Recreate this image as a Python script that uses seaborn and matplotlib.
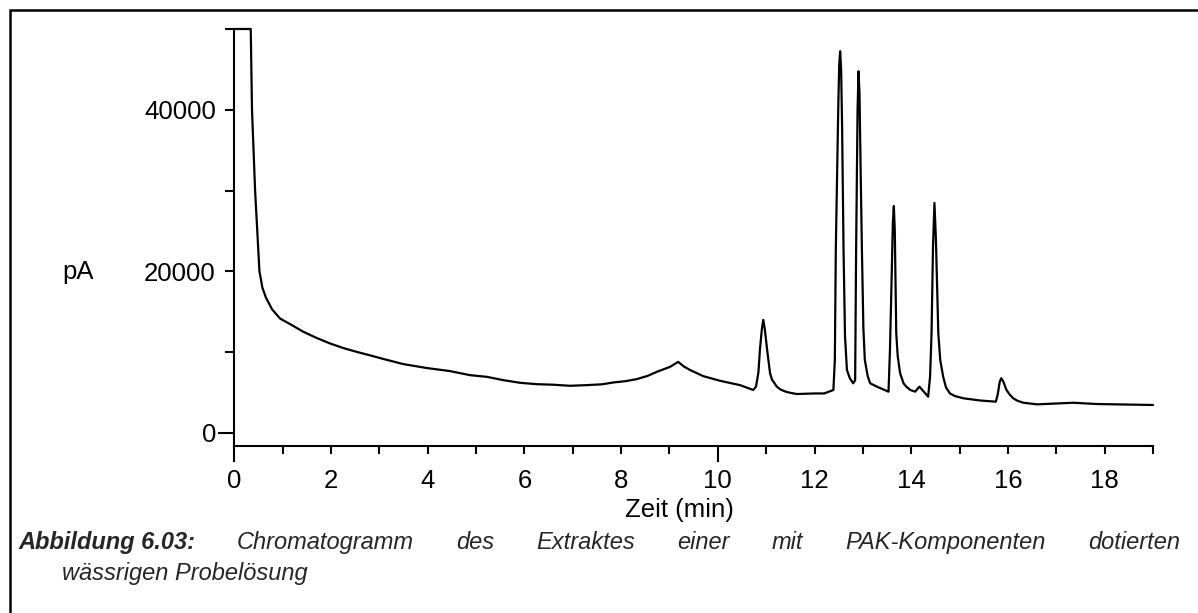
import matplotlib
matplotlib.use("Agg")
import matplotlib.pyplot as plt
import matplotlib.patches as mpatches
import matplotlib.ticker as mticker
import seaborn as sns
import pandas as pd

zeit = [0.0, 0.34, 0.366, 0.43, 0.52, 0.58, 0.65, 0.78, 0.945, 1.2, 1.43, 1.7, 1.98, 2.25, 2.53, 2.8,
        3.12, 3.5, 4.0, 4.45, 4.87, 5.22, 5.56, 5.91, 6.25, 6.6, 6.94, 7.29, 7.6, 7.84, 8.1, 8.32,
        8.55, 8.74, 9.01, 9.18, 9.3, 9.43, 9.7, 10.05, 10.46, 10.73, 10.79, 10.84, 10.87, 10.91,
        10.94, 10.97, 11.02, 11.08, 11.12, 11.22, 11.3, 11.4, 11.49, 11.63, 12.0, 12.2, 12.39,
        12.42, 12.44, 12.49, 12.51, 12.53, 12.55, 12.57, 12.6, 12.63, 12.67, 12.73, 12.8, 12.84,
        12.86, 12.89, 12.91, 12.93, 12.96, 12.98, 13.01, 13.04, 13.1, 13.15, 13.29, 13.53, 13.56,
        13.59, 13.62, 13.64, 13.66, 13.69, 13.72, 13.77, 13.84, 13.9, 13.98, 14.08, 14.17, 14.29,
        14.35, 14.39, 14.42, 14.45, 14.48, 14.51, 14.56, 14.6, 14.66, 14.72, 14.8, 14.9, 15.08,
        15.42, 15.75, 15.79, 15.83, 15.86, 15.9, 15.97, 16.04, 16.11, 16.2, 16.32, 16.6, 17.35,
        17.84, 19.0]
signal = [50000, 50000, 40000, 30000, 20000, 18000, 16800, 15300, 14150, 13300, 12500, 11750, 11060,
          10500, 10020, 9600, 9080, 8500, 8000, 7650, 7140, 6930, 6520, 6190, 6020, 5950, 5820, 5900,
          6000, 6230, 6400, 6640, 7050, 7550, 8160, 8780, 8200, 7760, 7010, 6430, 5900, 5300, 5710,
          7500, 10260, 12800, 13980, 12900, 10260, 7370, 6600, 5710, 5350, 5100, 4960, 4800, 4870,
          4870, 5300, 9000, 22660, 40000, 45500, 47250, 45000, 38000, 22660, 12000, 7780, 6750, 6130,
          6500, 22660, 40000, 44770, 42000, 30000, 22660, 13000, 9020, 7000, 6130, 5710, 5090, 10260,
          18000, 26000, 28080, 25000, 12330, 9500, 7370, 6130, 5700, 5300, 5090, 5710, 4880, 4470,
          7000, 12330, 23000, 28460, 24000, 12330, 9000, 6950, 5600, 4880, 4550, 4270, 4000, 3850,
          4800, 6300, 6750, 6400, 5300, 4700, 4270, 3950, 3720, 3520, 3720, 3560, 3440]

x_major = [0, 10]
x_minor = [1, 2, 3, 4, 5, 6, 7, 8, 9, 11, 12, 13, 14, 15, 16, 17, 18, 19]
x_minor_labels = ["", "2", "", "4", "", "6", "", "8", "", "", "12", "", "14", "", "16", "", "18", ""]
y_major = [0]
y_minor = [10000, 20000, 30000, 40000, 50000]
y_minor_labels = ["", "20000", "", "40000", ""]

caption_line1 = ["Abbildung 6.03:", "Chromatogramm", "des", "Extraktes", "einer", "mit",
                 "PAK-Komponenten", "dotierten"]
caption_line2 = "wässrigen Probelösung"

sns.set_style("ticks")
plt.rcParams["font.family"] = ["Liberation Sans", "DejaVu Sans"]

W, H = 1198, 613
fig = plt.figure(figsize=(W / 100, H / 100), dpi=100)
ax = fig.add_axes([234.3 / W, 1 - 445.7 / H, (1153 - 234.3) / W, (445.7 - 29) / H])

df = pd.DataFrame({"Zeit": zeit, "pA": signal})
sns.lineplot(data=df, x="Zeit", y="pA", ax=ax, color="black", linewidth=1.6,
             estimator=None, sort=False, clip_on=False)

ax.set_xlim(0, 19)
ax.set_ylim(-1600, 50000)
sns.despine(ax=ax)
for s in ["left", "bottom"]:
    ax.spines[s].set_linewidth(1.5)
    ax.spines[s].set_color("black")

fs = 18.5
ax.xaxis.set_major_locator(mticker.FixedLocator(x_major))
ax.xaxis.set_minor_locator(mticker.FixedLocator(x_minor))
ax.xaxis.set_major_formatter(mticker.FuncFormatter(lambda v, p: f"{v:g}"))
ax.xaxis.set_minor_formatter(mticker.FixedFormatter(x_minor_labels))
ax.yaxis.set_major_locator(mticker.FixedLocator(y_major))
ax.yaxis.set_minor_locator(mticker.FixedLocator(y_minor))
ax.yaxis.set_major_formatter(mticker.FuncFormatter(lambda v, p: f"{v:g}"))
ax.yaxis.set_minor_formatter(mticker.FixedFormatter(y_minor_labels))

ax.tick_params(axis="x", which="major", direction="out", length=11.5, width=1.5, pad=5.0,
               labelsize=fs, colors="black")
ax.tick_params(axis="x", which="minor", direction="out", length=5.8, width=1.5, pad=10.8,
               labelsize=fs, colors="black")
ax.tick_params(axis="y", which="major", direction="out", length=11.5, width=1.5, pad=1.2,
               labelsize=fs, colors="black")
ax.tick_params(axis="y", which="minor", direction="out", length=6.5, width=1.5, pad=6.7,
               labelsize=fs, colors="black")

ax.set_xlabel("Zeit (min)", fontsize=fs, color="black", va="top")
ax.xaxis.set_label_coords(0.484, -0.1255)
ax.set_ylabel("pA", rotation=0, fontsize=fs, color="black", ha="center", va="center")
ax.yaxis.set_label_coords(-0.170, 0.417)

# Bildunterschrift, Blocksatz in Zeile 1
cap_fs = 17
texts = []
for i, w in enumerate(caption_line1):
    t = fig.text(0, 1 - 549 / H, w, fontsize=cap_fs, style="italic",
                 weight="bold" if i == 0 else "normal", va="baseline", ha="left")
    texts.append(t)
fig.canvas.draw()
r = fig.canvas.get_renderer()
widths = [t.get_window_extent(r).width for t in texts]
x0, x1 = 18, 1180
gap = (x1 - x0 - sum(widths)) / (len(texts) - 1)
x = x0
for t, w in zip(texts, widths):
    t.set_x(x / W)
    x += w + gap
fig.text(62 / W, 1 - 580 / H, caption_line2, fontsize=cap_fs, style="italic", va="baseline", ha="left")

# Rahmen (rechts und unten abgeschnitten)
fig.add_artist(mpatches.Rectangle((9.5 / W, -0.5), 2, 1.5 - 9.5 / H, transform=fig.transFigure,
                                  fill=False, lw=1.8, ec="black"))

fig.savefig("out.png", dpi=100)
